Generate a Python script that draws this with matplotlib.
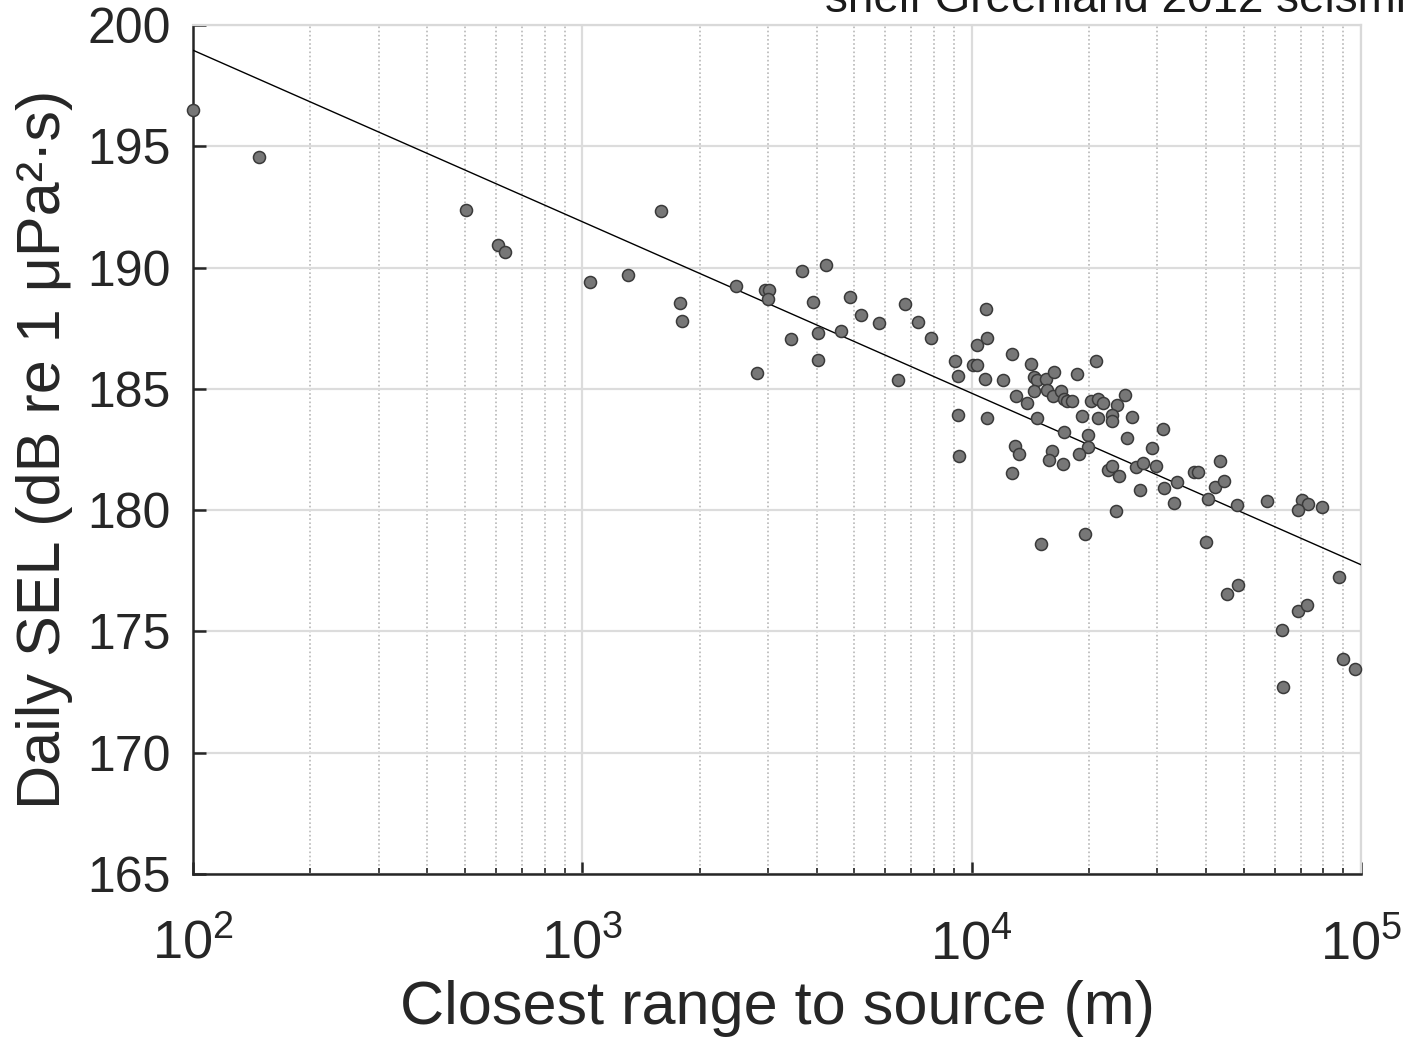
import numpy as np
import matplotlib
matplotlib.use("Agg")
import matplotlib.pyplot as plt
from matplotlib.ticker import LogLocator, NullFormatter

plt.rcParams['font.family'] = ['Liberation Sans', 'DejaVu Sans']
plt.rcParams['mathtext.fontset'] = 'custom'
plt.rcParams['mathtext.rm'] = 'Liberation Sans'
plt.rcParams['mathtext.it'] = 'Liberation Sans:italic'

# closest range to source (m) and daily SEL (dB re 1 uPa^2 s)
range_m = [100, 148, 503, 608, 634, 1049, 1313, 1597, 1786, 1808,
           2485, 2954, 3020, 2990, 2808, 3440, 3671, 3908, 4020, 4030,
           4222, 4624, 4877, 5202, 5790, 6452, 6741, 7278, 7873, 9080,
           9226, 9210, 9260, 10060, 10318, 10301, 10884, 10928, 10818, 10976,
           12036, 12724, 12898, 13263, 12724, 12976, 13849, 14183, 14463, 14694,
           14463, 14705, 15560, 16275, 15581, 16150, 16967, 17310, 17620, 18070,
           18680, 17310, 16060, 15810, 17210, 15110, 19240, 19940, 19940, 18880,
           19560, 20840, 20310, 21120, 21720, 21120, 23600, 22910, 22910, 24740,
           25830, 25130, 22330, 22950, 23920, 23550, 26450, 27570, 27070, 29080,
           31030, 29720, 31110, 33590, 33110, 37150, 38040, 43400, 42230, 44360,
           40510, 48080, 57210, 70530, 73080, 68750, 79530, 40050, 45330, 48370,
           87780, 62640, 68750, 72640, 90050, 96700, 63030]
sel_db = [196.5, 194.55, 192.37, 190.93, 190.64, 189.4, 189.7, 192.33, 188.55, 187.79,
          189.25, 189.08, 189.08, 188.72, 185.64, 187.07, 189.85, 188.58, 187.32, 186.18,
          190.12, 187.39, 188.8, 188.05, 187.72, 185.35, 188.51, 187.76, 187.09, 186.14,
          185.52, 183.91, 182.22, 185.98, 185.98, 186.82, 188.28, 187.11, 185.41, 183.8,
          185.38, 186.44, 182.63, 182.3, 181.55, 184.72, 184.43, 186.03, 185.5, 185.37,
          184.9, 183.8, 185.42, 185.68, 184.95, 184.72, 184.91, 184.58, 184.5, 184.5,
          185.6, 183.22, 182.43, 182.08, 181.92, 178.61, 183.9, 183.09, 182.62, 182.33,
          179.01, 186.16, 184.5, 184.58, 184.43, 183.81, 184.34, 183.91, 183.68, 184.73,
          183.84, 182.98, 181.66, 181.81, 181.4, 179.97, 181.79, 181.93, 180.85, 182.56,
          183.35, 181.81, 180.93, 181.16, 180.31, 181.59, 181.59, 182.03, 180.96, 181.2,
          180.45, 180.2, 180.37, 180.43, 180.26, 180.0, 180.12, 178.68, 176.56, 176.9,
          177.25, 175.06, 175.86, 176.07, 173.87, 173.44, 172.7]

# regression line SEL = a + b*log10(r)
fit_a = 213.1
fit_b = -7.07
fit_range = [1e2, 1e5]

fig = plt.figure(figsize=(14.04, 10.38), dpi=100)
ax = fig.add_axes([193 / 1404, 1 - 874 / 1038, (1361 - 193) / 1404, (874 - 25) / 1038])

ax.set_xscale('log')
ax.set_xlim(1e2, 1e5)
ax.set_ylim(165, 200)
ax.set_yticks(np.arange(165, 201, 5))

ax.xaxis.set_minor_locator(LogLocator(base=10, subs=np.arange(2, 10)))
ax.xaxis.set_minor_formatter(NullFormatter())

ax.grid(True, which='major', color='#dcdcdc', linewidth=1.6, linestyle='-')
ax.grid(True, which='minor', axis='x', color='#b8b8b8', linewidth=1.2, linestyle=(0, (1, 1.5)))
ax.set_axisbelow(True)

xf = np.array(fit_range)
ax.plot(xf, fit_a + fit_b * np.log10(xf), color='black', linewidth=1.0, zorder=3)
ax.scatter(range_m, sel_db, s=75, facecolor='#777777', edgecolor='#3a3a3a',
           linewidth=1.1, zorder=4, clip_on=False)

for side in ('top', 'right'):
    ax.spines[side].set_color('#d9d9d9')
    ax.spines[side].set_linewidth(1.6)
for side in ('left', 'bottom'):
    ax.spines[side].set_color('#262626')
    ax.spines[side].set_linewidth(1.8)

ax.tick_params(which='major', direction='in', length=9, width=1.8, color='#262626',
               labelcolor='#262626', top=False, right=False)
ax.tick_params(which='minor', direction='in', length=4, width=1.2, color='#262626',
               top=False, right=False)
ax.tick_params(axis='y', pad=16, labelsize=36)
ax.tick_params(axis='x', pad=32, labelsize=39)

ax.set_xlabel('Closest range to source (m)', fontsize=44, color='#262626', labelpad=7)
ax.set_ylabel('Daily SEL (dB re 1 μPa²·s)', fontsize=44, color='#262626', labelpad=10)

fig.text(825 / 1404, 1 - 12 / 1038, 'shelf Greenland 2012 seismic', fontsize=33,
         color='#1a1a1a', ha='left', va='baseline')

fig.savefig('out.png', dpi=100)
